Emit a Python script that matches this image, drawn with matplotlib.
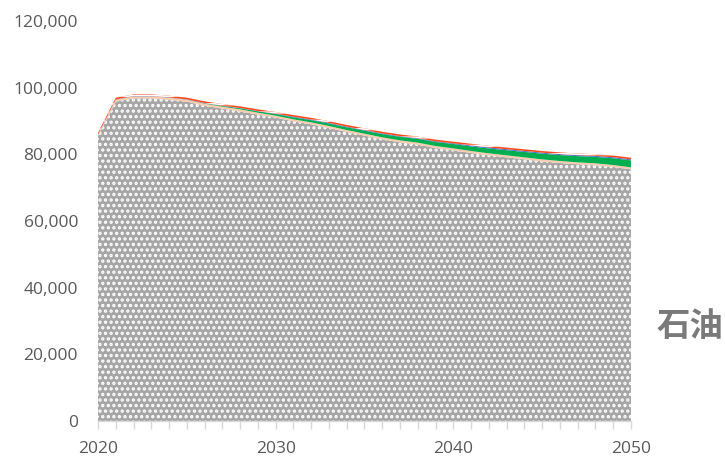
import numpy as np
import matplotlib
matplotlib.use("Agg")
import matplotlib.pyplot as plt
from matplotlib.ticker import FuncFormatter, MultipleLocator

# ---------------- data ----------------
years = list(range(2020, 2051))

oil_base = [85500, 95800, 96800, 96800, 96400, 95800, 94600, 93700, 92900, 91900,
            91000, 89900, 89000, 87900, 86700, 85600, 84500, 83600, 82900, 81900,
            81200, 80400, 79700, 79100, 78500, 77900, 77400, 77000, 76700, 76200,
            75500]
peach = [400] + [600] * 30
green = [0, 0, 0, 0, 0, 0, 100, 200, 300, 400,
         500, 580, 660, 740, 820, 900, 980, 1060, 1140, 1220,
         1300, 1380, 1460, 1540, 1620, 1700, 1780, 1860, 1940, 2020,
         2100]
blue = [100] * 11 + [200] * 10 + [300] * 10
red = [500] * 31

layer_colors = ["#a6a6a6", "#f8cbad", "#00b050", "#4472c4", "#ff4b1f"]
label_text = "石油"

# ---------------- figure ----------------
plt.rcParams["hatch.linewidth"] = 1.6
plt.rcParams["font.family"] = ["Open Sans", "DejaVu Sans"]
fig = plt.figure(figsize=(7.25, 4.58), dpi=100)
ax = fig.add_axes([0.1352, 0.0808, 0.8703 - 0.1352, 0.9541 - 0.0808])

polys = ax.stackplot(years, oil_base, peach, green, blue, red,
                     colors=layer_colors, linewidth=0)
polys[0].set_hatch("...")
polys[0].set_edgecolor("white")
polys[0].set_linewidth(0)
polys[4].set_hatch("--")
polys[4].set_edgecolor("white")
polys[4].set_linewidth(0)

ax.set_xlim(2020, 2050)
ax.set_ylim(0, 120000)

for side in ("top", "right", "left"):
    ax.spines[side].set_visible(False)
ax.spines["bottom"].set_color("#d9d9d9")
ax.spines["bottom"].set_linewidth(1.0)

ax.xaxis.set_major_locator(MultipleLocator(10))
ax.xaxis.set_minor_locator(MultipleLocator(1))
ax.yaxis.set_major_locator(MultipleLocator(20000))
ax.yaxis.set_major_formatter(FuncFormatter(lambda v, p: f"{int(v):,}"))

ax.tick_params(axis="x", which="both", length=5.8, color="#d9d9d9", width=1,
               labelsize=12.5, labelcolor="#595959", pad=8.5)
ax.tick_params(axis="y", length=0, labelsize=12.5, labelcolor="#595959", pad=14.4)

fig.text(0.997, 0.288, label_text, ha="right", va="center", fontsize=24,
         fontweight="bold", color="#7a7a7a",
         family=["Noto Sans CJK JP", "DejaVu Sans"])

fig.savefig("out.png", dpi=100)
